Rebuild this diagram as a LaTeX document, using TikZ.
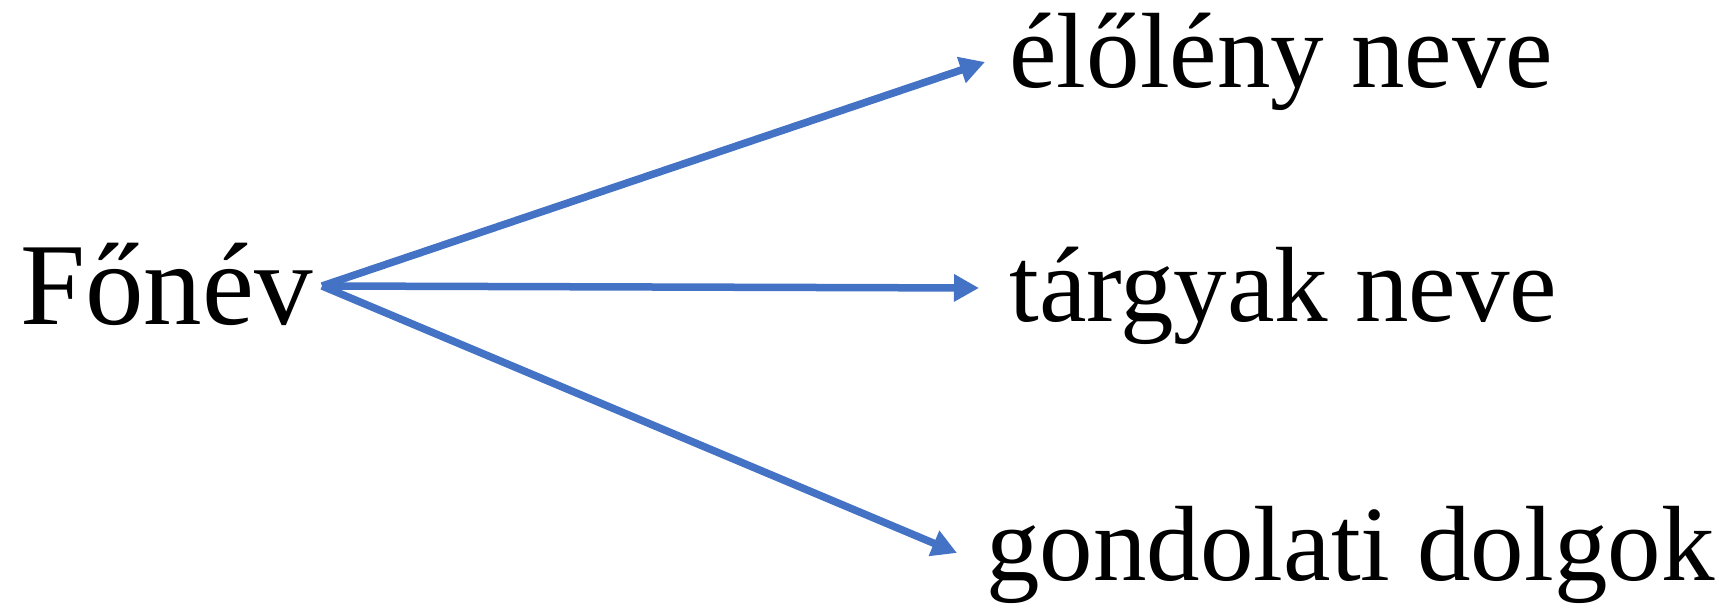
\documentclass[tikz,border=0pt]{standalone}
\usepackage{fontspec}
\setmainfont{Liberation Serif}
\usepackage{xcolor}
\usetikzlibrary{arrows.meta}
\definecolor{kek}{HTML}{4472C4}
\tikzset{
  szo/.style={anchor=base west, inner sep=0pt, font=\fontsize{53.5}{60}\selectfont},
  nyil/.style={line width=3.75pt, draw=kek, -{Triangle[length=12.5pt, width=13pt]}}
}

\begin{document}
\begin{tikzpicture}[x=0.5pt, y=-0.5pt]
    \useasboundingbox (0,0) rectangle (1719,608);
    \node[szo, font=\fontsize{58.5}{64}\selectfont] (fonev) at (20,325) {Főnév};
    \node[szo] (eloleny) at (1009,88) {élőlény neve};
    \node[szo] (targyak) at (1009,322) {tárgyak neve};
    \node[szo] (gondolat) at (986,581) {gondolati dolgok};
    \coordinate (kezd) at (322,286);
    \coordinate (v1) at (985,62);
    \coordinate (v2) at (979,288);
    \coordinate (v3) at (957,553);
    \draw[nyil] (kezd) -- (v1);
    \draw[nyil] (kezd) -- (v2);
    \draw[nyil] (kezd) -- (v3);
  \end{tikzpicture}
\end{document}
